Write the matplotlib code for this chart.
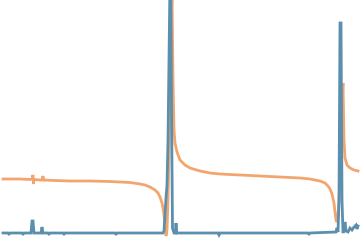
import matplotlib
matplotlib.use('Agg')
import matplotlib.pyplot as plt

# Data (arbitrary units)
t_orange = [0, 17, 27, 29, 30, 30.5, 31, 37, 39, 40, 40.5, 41, 52, 67, 87, 107, 117, 127,
            137, 142, 147, 152, 155, 157, 159, 160, 161, 162, 163, 164, 165, 166, 167, 168,
            169, 170, 171, 172, 174, 177, 182, 187, 197, 207, 217, 237, 257, 277, 297, 307,
            312, 317, 322, 325, 327, 329, 331, 332, 333, 334, 335, 336, 337, 338, 339, 340,
            341, 342, 344, 347, 351, 355]
orange_vals = [61, 61, 60.5, 61, 65, 56, 60.5, 60, 60, 64, 59, 60, 59.5, 59, 59, 58.5, 58, 57.5,
               56, 55, 53, 50, 47, 43, 37, 32, 25, 15, 4, 10, 40, 90, 150, 210,
               245, 160, 110, 97, 88, 80, 75, 72, 69, 67, 66, 65, 64, 63, 62, 61,
               60, 59, 57, 54, 51, 46, 37, 28, 20, 18, 25, 40, 70, 100, 140, 157,
               100, 82, 75, 72, 70, 69]

t_blue = [0, 5, 6, 7, 19, 20, 21, 28, 29, 30, 31, 38, 39, 40, 45, 46, 47, 60, 61, 62,
          112, 113, 114, 145, 160, 161, 162, 163, 164, 165, 166, 166.8, 167.8, 168.6,
          169.5, 171, 172.5, 173, 173.7, 215, 216, 217, 280, 305, 306, 307, 333, 334,
          335, 336, 337, 338, 339, 340, 341, 342, 343, 345, 347, 349, 351, 353, 354, 355]
blue_vals = [7, 7, 6, 7, 7, 6, 7, 7, 19, 19, 7, 7, 13, 7, 7, 6, 7, 7, 6, 7,
             7, 6, 7, 7, 7, 9, 25, 42, 55, 100, 180, 245, 245, 120,
             12, 7, 7, 17, 7, 7, 5, 7, 7, 7, 6, 7, 8, 12,
             8, 40, 217, 217, 40, 7, 10, 18, 9, 8, 12, 10, 13, 15, 11, 14]

orange = '#f2a66e'
blue = '#5b8fae'

fig = plt.figure(figsize=(3.6, 2.4), dpi=100)
ax = fig.add_axes([0, 0, 1, 1])
ax.plot(t_orange, orange_vals, color=orange, lw=2.0, solid_joinstyle='miter')
ax.plot(t_blue, blue_vals, color=blue, lw=2.0, solid_joinstyle='miter')
ax.set_xlim(-3, 357)
ax.set_ylim(0, 240)
ax.axis('off')
fig.savefig('out.png', dpi=100)
